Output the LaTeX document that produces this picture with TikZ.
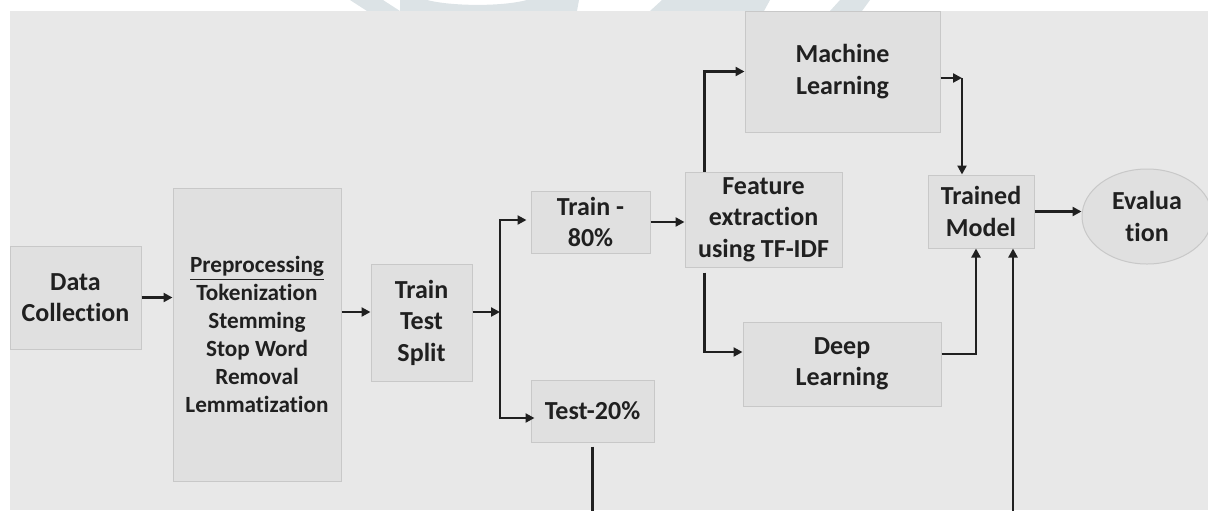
\documentclass[tikz,border=0pt]{standalone}
\usepackage{fontspec}
\setmainfont{Carlito}[Ligatures=NoCommon]
\usetikzlibrary{arrows.meta,shapes.geometric}
\definecolor{pagebg}{HTML}{E8E8E8}
\definecolor{boxfill}{HTML}{E0E0E0}
\definecolor{boxline}{HTML}{C8C8C8}
\definecolor{ink}{HTML}{202020}
\definecolor{wmark}{HTML}{DCE3E6}
\tikzset{
  box/.style={draw=boxline, line width=0.5pt, fill=boxfill, inner sep=0pt,
    align=center, text=ink, font=\fontsize{13}{15.75}\selectfont\bfseries},
  arr/.style={draw=ink, line width=1.4pt,
    -{Triangle[length=4.5pt,width=4.5pt]}}
}
\begin{document}
\begin{tikzpicture}[x=0.5pt,y=-0.5pt]
\useasboundingbox (0,0) rectangle (1208,510);
\clip (0,0) rectangle (1208,510);
% faint logo shapes in the top margin
\fill[wmark] (350,0) -- (383,0) -- (400,11) -- (367,11) -- cycle;
\fill[wmark] (400,0) -- (427,0) .. controls (450,6) and (500,7) .. (527,0)
  -- (579,0) -- (577,11) -- (400,11) -- cycle;
\fill[wmark] (662,0) -- (770,0) -- (764,11) -- (650,11) -- cycle;
\fill[wmark] (840,0) -- (870,0) -- (862,11) -- (830,11) -- cycle;
% canvas
\fill[pagebg] (10,11) rectangle (1208,510);

% blocks
\node[box, minimum width=65.5pt, minimum height=51.5pt] (dc) at (75.5,297.5)
  {Data\\Collection};
\node[box, minimum width=84pt, minimum height=146.5pt,
  font=\fontsize{11.6}{14}\selectfont\bfseries] (pre) at (257,334.5)
  {\underline{Preprocessing}\\Tokenization\\Stemming\\Stop Word\\Removal\\Lemmatization};
\node[box, minimum width=50.5pt, minimum height=58.5pt] (tts) at (421.5,322.5)
  {Train\\Test\\Split};
\node[box, minimum width=59.5pt, minimum height=31pt] (train) at (590.5,222)
  {Train -\\80\%};
\node[box, minimum width=61.5pt, minimum height=31pt] (test) at (592.5,411)
  {Test-20\%};
\node[box, minimum width=78.5pt, minimum height=47.5pt] (feat) at (763.5,219.5)
  {Feature\\extraction\\using TF-IDF};
\node[box, minimum width=97.5pt, minimum height=60.5pt] (ml) at (842.5,71.5)
  {Machine\\Learning};
\node[box, minimum width=99pt, minimum height=42pt] (dl) at (842,364)
  {Deep\\Learning};
\node[box, minimum width=53pt, minimum height=36.5pt] (tm) at (981,211.5)
  {Trained\\Model};
\node[box, ellipse, minimum width=65pt, minimum height=47.5pt] (ev) at (1147,216.5)
  {Evalua\\tion};

% junction points
\coordinate (r1) at (0,312);
\coordinate (sp) at (500,312);
\coordinate (mlj) at (962,78);

% connectors
\draw[arr] (dc.east) -- (dc.east -| pre.west);
\draw[arr] (pre.east |- r1) -- (tts.west |- r1);
\draw[arr] (tts.east |- r1) -- (sp);
\draw[arr] (sp) |- ([xshift=-2pt,yshift=1pt]train.west);
\draw[arr] (sp) |- ([xshift=2pt,yshift=-3.5pt]test.west);
\draw[arr] (train.east) -- (train.east -| feat.west);
\draw[arr] ([xshift=10pt]feat.north west) |- (ml.west);
\draw[arr] ([xshift=10pt,yshift=-2.5pt]feat.south west) |- ([yshift=6pt]dl.west);
\draw[arr] ([yshift=-3.25pt]ml.east) -- (mlj);
\draw[arr] (mlj) -- (mlj |- tm.north);
\draw[arr] ([yshift=5pt]dl.east) -| ([xshift=-2.5pt]tm.south);
\draw[arr] ([yshift=-2pt]test.south) -- ++(0,80) -| ([xshift=16pt]tm.south);
\draw[arr] (tm.east) -- (tm.east -| ev.west);
\end{tikzpicture}
\end{document}
